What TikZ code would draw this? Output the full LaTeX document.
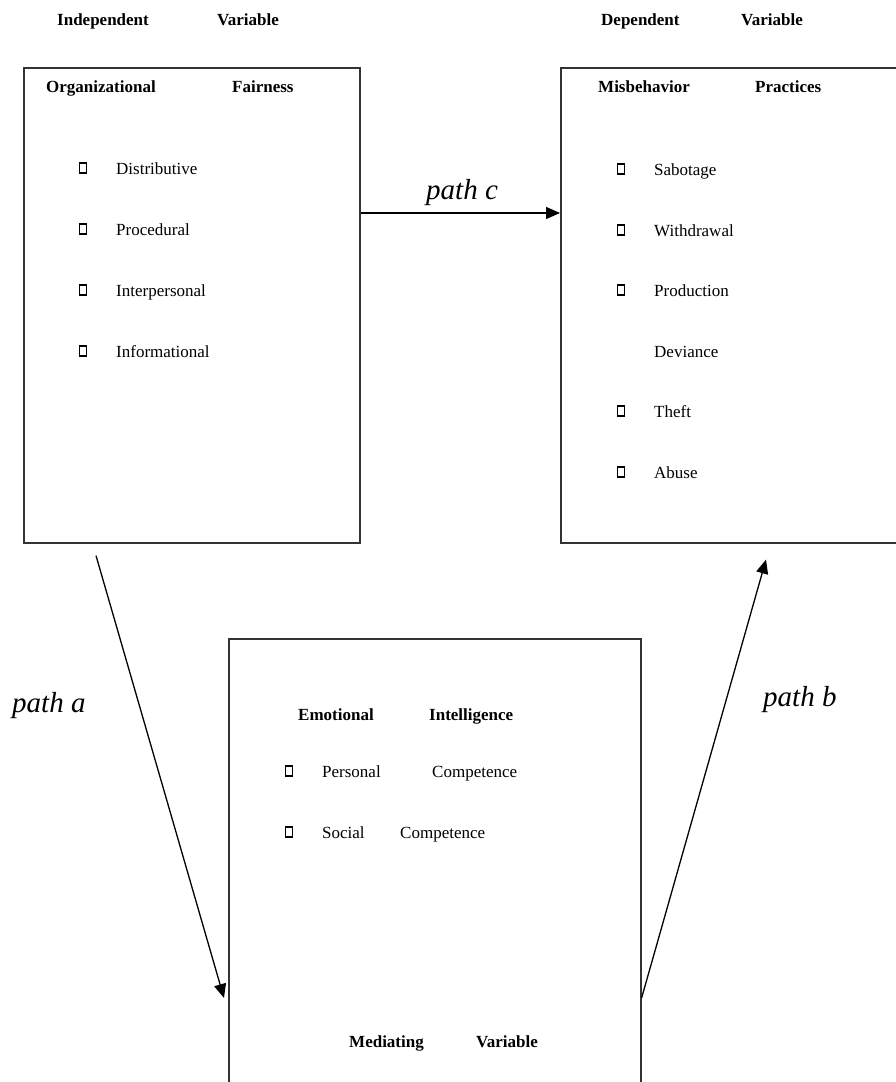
\documentclass[tikz,border=0pt]{standalone}
\usepackage{fontspec}
\setmainfont{Liberation Serif}
\usetikzlibrary{arrows.meta}
\newcommand{\listitem}[4]{\node[tick] (#1tick) at (#2, #3-6) {}; \node[item] (#1) at (#2+33, #3) {#4};}

\begin{document}
\begin{tikzpicture}[x=1pt,y=-1pt,
    varbox/.style={draw=black!80,line width=1.6pt,inner sep=0pt,anchor=north west},
    head/.style={font=\bfseries\fontsize{17}{20}\selectfont,anchor=base west,inner sep=0pt},
    item/.style={font=\fontsize{17}{20}\selectfont,anchor=base west,inner sep=0pt},
    tick/.style={draw,line width=1.1pt,minimum width=7pt,minimum height=10pt,inner sep=0pt},
    pathlbl/.style={font=\itshape\fontsize{29}{32}\selectfont,anchor=base west,inner sep=0pt},
    link/.style={line width=1.3pt,-{Triangle[length=14pt,width=12pt]}}]
    \useasboundingbox (0,0) rectangle (896,1082);
    \clip (0,0) rectangle (896,1082);
    %boxes
    \node[varbox,minimum width=336pt,minimum height=475pt] (fair) at (23,67) {};
    \node[varbox,minimum width=345pt,minimum height=475pt] (misb) at (560,67) {};
    \node[varbox,minimum width=412pt,minimum height=460pt] (emo) at (228,638) {};
    %headings
    \node[head] (indep) at (57,25) {Independent};
    \node[head] (indepvar) at (217,25) {Variable};
    \node[head] (dep) at (601,25) {Dependent};
    \node[head] (depvar) at (741,25) {Variable};
    \node[head] (orgf) at (46,92) {Organizational};
    \node[head] (orgf2) at (232,92) {Fairness};
    \node[head] (mis) at (598,92) {Misbehavior};
    \node[head] (mis2) at (755,92) {Practices};
    \node[head] (emoi) at (298,720) {Emotional};
    \node[head] (emoi2) at (429,720) {Intelligence};
    \node[head] (medi) at (349,1047) {Mediating};
    \node[head] (medivar) at (476,1047) {Variable};
    %fairness items
    \foreach \name/\y/\txt in {dist/174/Distributive, proc/235/Procedural, inter/296/Interpersonal, info/357/Informational}
      {\listitem{\name}{83}{\y}{\txt}}
    %misbehavior items
    \foreach \name/\y/\txt in {sabo/175/Sabotage, withd/236/Withdrawal, prod/296/Production, theft/417/Theft, abuse/478/Abuse}
      {\listitem{\name}{621}{\y}{\txt}}
    \node[item] (devi) at (654,357) {Deviance};
    %intelligence items
    \listitem{pers}{289}{777}{Personal}
    \node[item] (perscomp) at (432,777) {Competence};
    \listitem{soc}{289}{838}{Social}
    \node[item] (soccomp) at (400,838) {Competence};
    %paths
    \draw[link] ([yshift=-146pt]fair.north east) -- ([yshift=-146pt]misb.north west);
    \draw[link] ([xshift=73pt,yshift=-12pt]fair.south west) -- ([xshift=-4pt,yshift=-360pt]emo.north west);
    \draw[link] ([yshift=-360pt]emo.north east) -- ([xshift=206pt,yshift=-16pt]misb.south west);
    \node[pathlbl] (pc) at (426,199) {path c};
    \node[pathlbl] (pa) at (12,712) {path a};
    \node[pathlbl] (pb) at (763,706) {path b};
\end{tikzpicture}
\end{document}
